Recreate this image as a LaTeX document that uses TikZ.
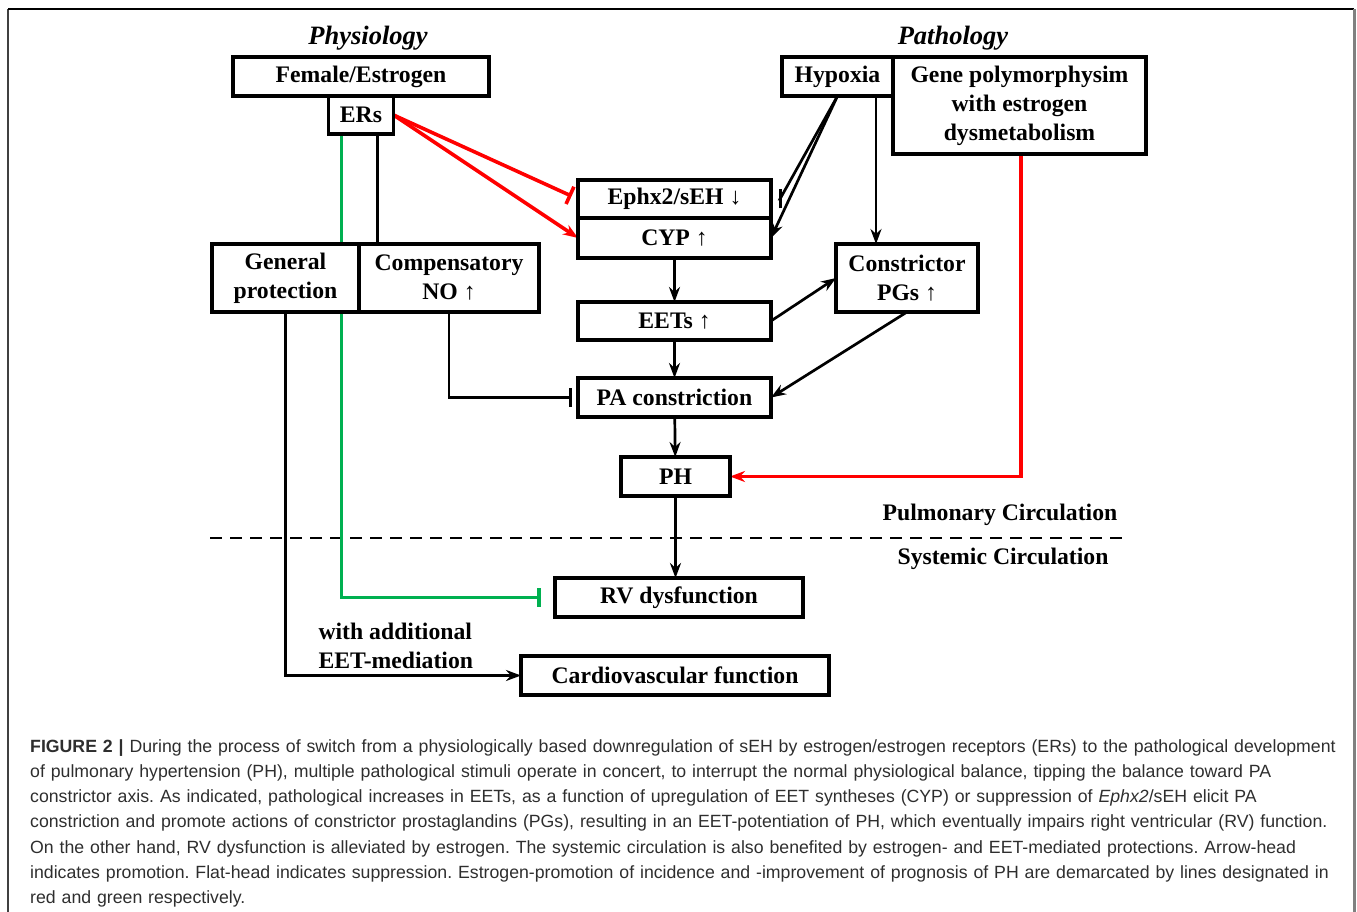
\documentclass[tikz,border=0pt]{standalone}
\usepackage{fontspec}
\setmainfont{Liberation Serif}
\newfontfamily\capfont{Liberation Sans}
\usepackage{xcolor}
\usepackage{tikz}
\usetikzlibrary{positioning,arrows.meta,backgrounds}
\definecolor{pathred}{RGB}{255,0,0}
\definecolor{physgreen}{RGB}{0,176,80}
\frenchspacing

\begin{document}
\begin{tikzpicture}[
			x=1pt, y=-1pt,
			box/.style={draw, line width=3.2pt, fill=white, inner sep=0pt, outer sep=0pt, align=center,
				font=\bfseries\fontsize{23.7}{29}\selectfont},
			heading/.style={font=\bfseries\itshape\fontsize{26.5}{30}\selectfont},
			region/.style={font=\bfseries\fontsize{23.7}{29}\selectfont},
			promote/.style={-{Stealth[length=15pt,width=11pt]}, line width=2.7pt},
			suppress/.style={-{Bar[width=19pt]}, line width=2.7pt, shorten >=6pt},
			redline/.style={draw=pathred, line width=3.6pt},
			greenline/.style={draw=physgreen, line width=3.6pt}
			]
			\useasboundingbox (0,0) rectangle (1357,912);
			\draw[black!75, line width=1.5pt] (8,912) -- (8,9);
			\draw[line width=2pt] (8,9) -- (1354,9);
			\draw[gray, line width=3pt] (1354,9) -- (1354,912);

			\node[heading] (phys) at (368,38) {Physiology};
			\node[heading] (path) at (953,38) {Pathology};

			\node[box, minimum width=256pt, minimum height=39pt] (fe) at (361,76.5) {Female/Estrogen};
			\node[box, minimum width=65pt, minimum height=38pt, below=0pt of fe] (ers) {ERs};
			\node[box, minimum width=111pt, minimum height=39pt] (hyp) at (837.5,76.5) {Hypoxia};
			\node[box, minimum width=253pt, minimum height=97pt, anchor=north west] (gene) at (hyp.north east)
				{Gene polymorphysim\\with estrogen\\dysmetabolism};
			\node[box, minimum width=193pt, minimum height=38pt] (ephx) at (674.5,199) {Ephx2/sEH \textmd{↓}};
			\node[box, minimum width=193pt, minimum height=40pt, below=0pt of ephx] (cyp) {CYP \textmd{↑}};
			\node[box, minimum width=147pt, minimum height=68pt] (genprot) at (285.5,278) {General\\protection};
			\node[box, minimum width=180pt, minimum height=68pt, right=0pt of genprot] (comp) {Compensatory\\NO \textmd{↑}};
			\node[box, minimum width=142pt, minimum height=68pt] (pgs) at (907,278) {Constrictor\\PGs \textmd{↑}};
			\node[box, minimum width=193pt, minimum height=38pt] (eets) at (674.5,321) {EETs \textmd{↑}};
			\node[box, minimum width=193pt, minimum height=39pt] (pa) at (674.5,397.5) {PA constriction};
			\node[box, minimum width=109pt, minimum height=39pt] (ph) at (675.5,476.5) {PH};
			\node[box, minimum width=248pt, minimum height=39pt] (rv) at (679,597.5) {RV dysfunction};
			\node[box, minimum width=308pt, minimum height=39pt] (cvf) at (675,675.5) {Cardiovascular function};

			\node[region] (pulm) at (1000,515) {Pulmonary Circulation};
			\node[region] (syst) at (1003,559) {Systemic Circulation};
			\node[region, align=left, anchor=west] (eetmed) at (315,645.5) {with additional\\EET-mediation};
			\coordinate (divl) at (210,538);
			\coordinate (divr) at (1125,538);

			\begin{scope}[on background layer]
				\draw[line width=2.7pt, dash pattern=on 12pt off 8pt] (divl) -- (divr);
				\draw[greenline, suppress, line width=3.6pt, shorten >=14pt] ([xshift=-19.5pt]ers.south) |- (rv.west);
				\draw[line width=2.7pt] ([xshift=16.5pt]ers.south) -- ([xshift=16.5pt]ers.south |- comp.north);
				\draw[redline, suppress, line width=3.6pt, shorten >=7pt] (ers.east) -- (ephx.west);
				\draw[redline, promote, line width=3.6pt] (ers.east) -- (cyp.west);
				\draw[suppress, shorten >=0pt] (hyp.south) -- ([xshift=9pt]ephx.east) -- ([xshift=8pt]ephx.east);
				\draw[promote] (hyp.south) -- (cyp.east);
				\draw[promote] ([xshift=38.5pt]hyp.south) -- ([xshift=38.5pt]hyp.south |- pgs.north);
				\draw[redline, promote, line width=3.6pt] ([xshift=1.5pt]gene.south) |- (ph.east);
				\draw[promote] (cyp) -- (eets);
				\draw[promote] (eets.east) -- (pgs.west);
				\draw[promote] (pgs.south) -- (pa.east);
				\draw[promote] (eets) -- (pa);
				\draw[suppress] (comp.south) |- (pa.west);
				\draw[promote] (pa) -- (ph);
				\draw[promote] (ph.south) -- (ph.south |- rv.north);
				\draw[promote] (genprot.south) |- (cvf.west);
			\end{scope}

			\node[anchor=north west, inner sep=0pt, text width=1325pt, align=left, text=black!82,
				font=\capfont\fontsize{17.7}{25.3}\selectfont] (caption) at (30,739)
				{\textbf{FIGURE 2 |} During the process of switch from a physiologically based downregulation of sEH by estrogen/estrogen receptors (ERs) to the pathological development\\
				of pulmonary hypertension (PH), multiple pathological stimuli operate in concert, to interrupt the normal physiological balance, tipping the balance toward PA\\
				constrictor axis. As indicated, pathological increases in EETs, as a function of upregulation of EET syntheses (CYP) or suppression of \textit{Ephx2}/sEH elicit PA\\
				constriction and promote actions of constrictor prostaglandins (PGs), resulting in an EET-potentiation of PH, which eventually impairs right ventricular (RV) function.\\
				On the other hand, RV dysfunction is alleviated by estrogen. The systemic circulation is also benefited by estrogen- and EET-mediated protections. Arrow-head\\
				indicates promotion. Flat-head indicates suppression. Estrogen-promotion of incidence and -improvement of prognosis of PH are demarcated by lines designated in\\
				red and green respectively.};
		\end{tikzpicture}
\end{document}
